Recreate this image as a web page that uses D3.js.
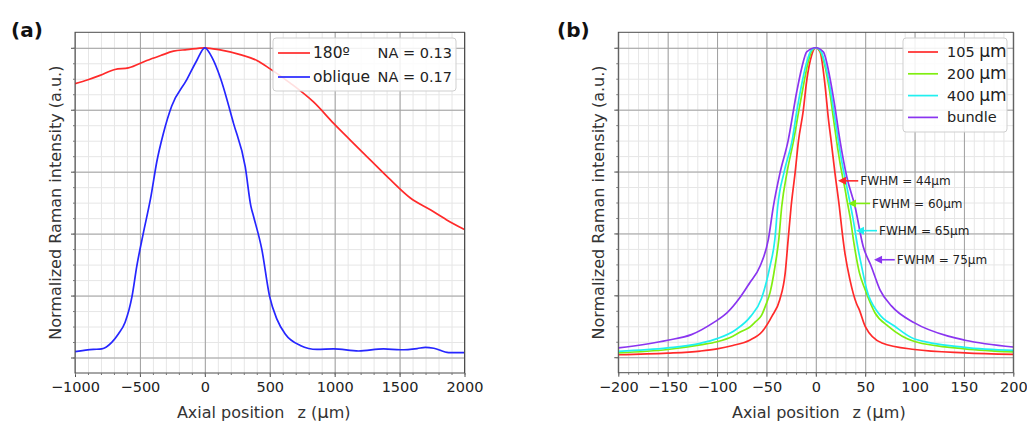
<!DOCTYPE html>
<html>
<head>
<meta charset="utf-8">
<script src="https://cdn.jsdelivr.net/npm/d3@7"></script>
<style>
body { margin: 0; background: #fff; }
text { font-family: "DejaVu Sans", sans-serif; }
</style>
</head>
<body>
<svg id="fig" width="1027" height="421"></svg>
<script>
// ---- data ----
// panel (a): axial response, z in um, normalized intensity
var red180 = [[-1000,0.884],[-900,0.897],[-807,0.911],[-692,0.930],[-589,0.935],[-447,0.959],[-340,0.975],[-242,0.989],[-139,0.994],[0,1.0],[118,0.993],[272,0.978],[401,0.959],[503,0.932],[658,0.886],[837,0.825],[992,0.756],[1120,0.702],[1274,0.638],[1429,0.574],[1583,0.515],[1737,0.477],[1860,0.445],[2000,0.413]];
var blueOblique = [[-1000,0.019],[-859,0.026],[-794,0.028],[-717,0.049],[-666,0.076],[-614,0.114],[-560,0.199],[-524,0.295],[-473,0.403],[-415,0.52],[-370,0.632],[-319,0.724],[-255,0.812],[-139,0.897],[-62,0.959],[0,1.0],[60,0.965],[118,0.905],[221,0.756],[311,0.616],[355,0.488],[375,0.456],[439,0.349],[498,0.199],[555,0.124],[619,0.076],[735,0.039],[864,0.026],[992,0.028],[1184,0.021],[1377,0.028],[1506,0.025],[1635,0.029],[1699,0.033],[1764,0.030],[1878,0.016],[2000,0.016]];
var legendA = ["180º", "oblique"];
var legendNA = ["NA = 0.13", "NA = 0.17"];

// panel (b): fibre core sizes
var fib105 = [[-200,0.008],[-150,0.013],[-117,0.02],[-100,0.027],[-84,0.038],[-67,0.055],[-54,0.084],[-44.5,0.132],[-36.5,0.186],[-31,0.272],[-28,0.38],[-25,0.487],[-21,0.595],[-17.5,0.70],[-12.7,0.797],[-9.2,0.894],[-4.2,0.976],[0,1.0],[4.3,0.987],[9.3,0.88],[12.7,0.772],[15.5,0.70],[19.4,0.595],[23.8,0.487],[26.5,0.41],[29,0.347],[34.6,0.25],[41,0.175],[44,0.154],[50,0.1],[67,0.046],[100,0.025],[151,0.014],[200,0.009]];
var fib200 = [[-200,0.014],[-150,0.025],[-117,0.04],[-100,0.05],[-84,0.068],[-75,0.084],[-67,0.097],[-61,0.115],[-55,0.135],[-50.5,0.17],[-46.4,0.208],[-41.3,0.294],[-37.5,0.38],[-34.5,0.487],[-29,0.6],[-22.5,0.70],[-17,0.80],[-13,0.87],[-8,0.95],[-4,0.99],[0,1.0],[5,0.985],[10,0.93],[14,0.86],[17.5,0.78],[21,0.70],[25.5,0.61],[29.6,0.543],[32,0.5],[34.6,0.455],[39.7,0.347],[44,0.275],[50,0.218],[60,0.143],[73.5,0.1],[100,0.051],[151,0.027],[200,0.017]];
var fib400 = [[-200,0.019],[-150,0.030],[-117,0.045],[-100,0.06],[-81,0.089],[-66,0.132],[-55,0.19],[-46.4,0.294],[-41.5,0.38],[-38.6,0.487],[-32,0.6],[-24,0.70],[-19,0.80],[-15,0.87],[-9.5,0.95],[-5,0.99],[0,1.0],[5,0.99],[10,0.94],[14.5,0.87],[18.5,0.79],[22.8,0.70],[27,0.62],[31.9,0.543],[37.3,0.455],[43,0.347],[46,0.3],[51.6,0.218],[63.4,0.143],[80,0.1],[100,0.059],[151,0.032],[200,0.022]];
var fibBundle = [[-200,0.030],[-150,0.055],[-126,0.073],[-104,0.111],[-90,0.143],[-77,0.192],[-67,0.24],[-56.5,0.294],[-48.1,0.38],[-43,0.487],[-36.3,0.595],[-28,0.70],[-19.3,0.858],[-14.3,0.934],[-9.2,0.987],[0,1.0],[7.6,0.987],[14.4,0.901],[19.4,0.808],[24.5,0.70],[31.3,0.584],[39.7,0.487],[48,0.358],[56,0.295],[65,0.218],[76.8,0.165],[100,0.111],[134,0.068],[151,0.055],[200,0.033]];
var legendB = ["105 ", "200 ", "400 ", "bundle"];
var fwhmText = ["FWHM = 44μm", "FWHM = 60μm", "FWHM = 65μm", "FWHM = 75μm"];
var fwhmTipZ = [22.5, 32.6, 40.7, 59];
var fwhmTipV = [0.57, 0.497, 0.409, 0.315];
var fwhmTextZ = [45, 57, 64, 82];

var xTicksA = [-1000, -500, 0, 500, 1000, 1500, 2000];
var xTicksB = [-200, -150, -100, -50, 0, 50, 100, 150, 200];
var yTicks = [0, 0.2, 0.4, 0.6, 0.8, 1.0];

// ---- drawing ----
var svg = d3.select("#fig");
var yDomain = [-0.05, 1.05];
var fmt = function (d) { return d < 0 ? "\u2212" + Math.abs(d) : String(d); };

function drawPanel(p) {
    var x = d3.scaleLinear().domain(p.xDomain).range([p.left, p.right]),
        y = d3.scaleLinear().domain(yDomain).range([p.bottom, p.top]),
        w = p.right - p.left,
        h = p.bottom - p.top,
        g = svg.append("g");

    var xMinor = d3.range(p.xDomain[0], p.xDomain[1] + 1e-9, p.minorStep),
        yMinor = d3.range(0, 1.0001, 0.05);

    function grid(sel, color) {
        sel.select(".domain").remove();
        sel.selectAll("line").attr("stroke", color).attr("stroke-width", 1);
    }
    // minor grid
    g.append("g").attr("transform", "translate(0," + p.bottom + ")")
        .call(d3.axisBottom(x).tickValues(xMinor).tickSize(-h).tickFormat(""))
        .call(grid, "#e6e6e6");
    g.append("g").attr("transform", "translate(" + p.left + ",0)")
        .call(d3.axisLeft(y).tickValues(yMinor).tickSize(-w).tickFormat(""))
        .call(grid, "#e6e6e6");
    // major grid
    g.append("g").attr("transform", "translate(0," + p.bottom + ")")
        .call(d3.axisBottom(x).tickValues(p.xTicks).tickSize(-h).tickFormat(""))
        .call(grid, "#a0a0a0");
    g.append("g").attr("transform", "translate(" + p.left + ",0)")
        .call(d3.axisLeft(y).tickValues(yTicks).tickSize(-w).tickFormat(""))
        .call(grid, "#a0a0a0");

    // curves
    var clipId = "clip" + p.name;
    svg.append("clipPath").attr("id", clipId).append("rect")
        .attr("x", p.left).attr("y", p.top).attr("width", w).attr("height", h);
    var line = d3.line()
        .x(function (d) { return x(d[0]); })
        .y(function (d) { return y(d[1]); })
        .curve(d3.curveMonotoneX);
    g.append("g").attr("clip-path", "url(#" + clipId + ")")
        .selectAll("path").data(p.series).enter().append("path")
        .attr("d", function (d) { return line(d.values); })
        .attr("fill", "none")
        .attr("stroke", function (d) { return d.color; })
        .attr("stroke-width", 1.7);

    // frame
    g.append("rect").attr("x", p.left).attr("y", p.top)
        .attr("width", w).attr("height", h)
        .attr("fill", "none").attr("stroke", "#4d4d4d").attr("stroke-width", 1);

    // ticks and labels
    var xa = g.append("g").attr("transform", "translate(0," + p.bottom + ")")
        .call(d3.axisBottom(x).tickValues(p.xTicks).tickSize(4).tickPadding(5).tickFormat(fmt));
    xa.select(".domain").remove();
    xa.selectAll("line").attr("stroke", "#4d4d4d");
    xa.selectAll("text").attr("font-size", "14.5px").attr("fill", "#222")
        .attr("font-family", "DejaVu Sans");
    var xm = g.append("g").attr("transform", "translate(0," + p.bottom + ")")
        .call(d3.axisBottom(x).tickValues(xMinor).tickSize(2).tickFormat(""));
    xm.select(".domain").remove();
    xm.selectAll("line").attr("stroke", "#777");
    var ya = g.append("g").attr("transform", "translate(" + p.left + ",0)")
        .call(d3.axisLeft(y).tickValues(yTicks).tickSize(4).tickFormat(""));
    ya.select(".domain").remove();
    ya.selectAll("line").attr("stroke", "#4d4d4d");
    var ym = g.append("g").attr("transform", "translate(" + p.left + ",0)")
        .call(d3.axisLeft(y).tickValues(yMinor).tickSize(2).tickFormat(""));
    ym.select(".domain").remove();
    ym.selectAll("line").attr("stroke", "#777");

    // axis titles
    var xl = g.append("text")
        .attr("x", (p.left + p.right) / 2 + p.xLabelShift).attr("y", 418)
        .attr("text-anchor", "middle").attr("font-size", "16px").attr("fill", "#333");
    xl.append("tspan").text("Axial position\u2002 z (");
    xl.append("tspan").attr("font-size", "18px").text("μ");
    xl.append("tspan").text("m)");
    g.append("text")
        .attr("transform", "translate(" + (p.left - 20) + "," + ((p.top + p.bottom) / 2) + ") rotate(-90)")
        .attr("dy", "0.35em")
        .attr("text-anchor", "middle").attr("font-size", "16px").attr("fill", "#333")
        .text("Normalized Raman intensity (a.u.)");

    // panel letter
    g.append("text").attr("x", p.letterX).attr("y", 37)
        .attr("font-size", "20px").attr("font-weight", "bold").attr("fill", "#111")
        .text(p.letter);

    return { x: x, y: y, g: g };
}

// panel (a)
var pa = drawPanel({
    name: "A", letter: "(a)", letterX: 11,
    left: 75, right: 464.5, top: 32.3, bottom: 373,
    xDomain: [-1000, 2000], xTicks: xTicksA, minorStep: 100, xLabelShift: -6,
    series: [
        { values: red180, color: "#ff2a2a" },
        { values: blueOblique, color: "#2626ff" }
    ]
});
var colorsA = ["#ff2a2a", "#2626ff"];
var legA = pa.g.append("g");
legA.append("rect").attr("x", 273).attr("y", 38).attr("width", 183).attr("height", 53)
    .attr("rx", 3).attr("fill", "#fff").attr("fill-opacity", 0.85)
    .attr("stroke", "#cfcfcf");
legendA.forEach(function (t, i) {
    var yy = 53 + i * 24;
    legA.append("line").attr("x1", 278).attr("x2", 310).attr("y1", yy).attr("y2", yy)
        .attr("stroke", colorsA[i]).attr("stroke-width", 1.7);
    legA.append("text").attr("x", 313).attr("y", yy).attr("dy", "0.35em")
        .attr("font-size", "15.5px").attr("fill", "#222").text(t);
    legA.append("text").attr("x", 452).attr("y", yy).attr("dy", "0.35em")
        .attr("text-anchor", "end")
        .attr("font-size", "14.5px").attr("fill", "#222").text(legendNA[i]);
});

// panel (b)
var colorsB = ["#ff2a2a", "#80ee10", "#20f0f0", "#8a35f0"];
var pb = drawPanel({
    name: "B", letter: "(b)", letterX: 557,
    left: 618.3, right: 1013.3, top: 32.3, bottom: 372.7,
    xDomain: [-200, 200], xTicks: xTicksB, minorStep: 10, xLabelShift: 3,
    series: [
        { values: fib105, color: colorsB[0] },
        { values: fib200, color: colorsB[1] },
        { values: fib400, color: colorsB[2] },
        { values: fibBundle, color: colorsB[3] }
    ]
});
var legB = pb.g.append("g");
legB.append("rect").attr("x", 903).attr("y", 38).attr("width", 104).attr("height", 94)
    .attr("rx", 3).attr("fill", "#fff").attr("fill-opacity", 0.85)
    .attr("stroke", "#cfcfcf");
legendB.forEach(function (t, i) {
    var yy = 52 + i * 21.8;
    legB.append("line").attr("x1", 908).attr("x2", 938).attr("y1", yy).attr("y2", yy)
        .attr("stroke", colorsB[i]).attr("stroke-width", 1.7);
    var tx = legB.append("text").attr("x", 947).attr("y", yy).attr("dy", "0.35em")
        .attr("font-size", "14.5px").attr("fill", "#222");
    tx.append("tspan").text(t);
    if (i < 3) tx.append("tspan").attr("font-size", "17px").text("μm");
});

// FWHM arrows
var xb = pb.x, yb = pb.y;
var ann = pb.g.append("g");
fwhmText.forEach(function (t, i) {
    var tipX = xb(fwhmTipZ[i]), tipY = yb(fwhmTipV[i]), txX = xb(fwhmTextZ[i]);
    ann.append("line").attr("x1", tipX + 6).attr("x2", txX - 2)
        .attr("y1", tipY).attr("y2", tipY)
        .attr("stroke", colorsB[i]).attr("stroke-width", 1.6);
    ann.append("path")
        .attr("d", "M" + tipX + "," + tipY + "L" + (tipX + 8) + "," + (tipY - 4) +
            "L" + (tipX + 8) + "," + (tipY + 4) + "Z")
        .attr("fill", colorsB[i]);
    ann.append("text").attr("x", txX).attr("y", tipY).attr("dy", "0.36em")
        .attr("font-family", "Liberation Sans").attr("font-size", "12px")
        .attr("fill", "#222").text(t);
});
</script>
</body>
</html>
